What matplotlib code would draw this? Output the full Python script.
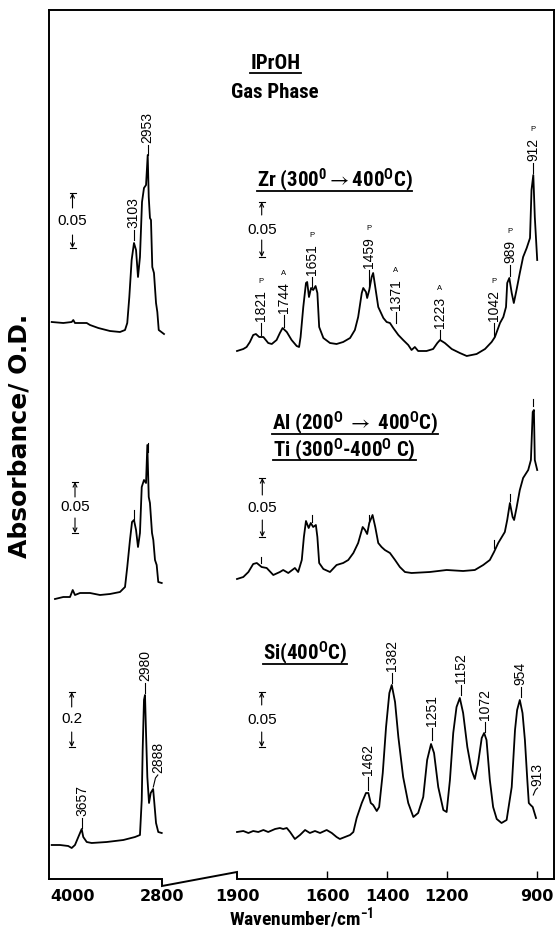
import numpy as np
import matplotlib
matplotlib.use('Agg')
import matplotlib.pyplot as plt
import matplotlib.transforms as mtransforms
from matplotlib import font_manager

# ---- spectra: wavenumber (cm-1) and offset absorbance (plot units) ----
# IPrOH gas phase, C-H stretch region
gas_wn = [3981, 3857, 3767, 3750, 3732, 3606, 3571, 3482, 3357, 3250, 3196, 3172, 3150,
          3125, 3100, 3078, 3057, 3036, 3014, 2993, 2971, 2953, 2942, 2929, 2918, 2904,
          2886, 2864, 2850, 2835, 2776]
gas_abs = [557, 556, 557, 559, 556, 556, 554, 551, 548, 547, 549, 556, 582, 619, 636, 629,
           602, 622, 677, 691, 694, 724, 682, 661, 659, 612, 606, 576, 567, 549, 545]

# Zr (300 -> 400 C)
zr_wn = [1900, 1879, 1868, 1857, 1846, 1837, 1826, 1812, 1796, 1784, 1768, 1757, 1748, 1734,
         1718, 1701, 1693, 1688, 1679, 1670, 1666, 1660, 1653, 1646, 1638, 1632, 1626, 1612,
         1590, 1568, 1546, 1523, 1507, 1496, 1484, 1479, 1470, 1466, 1459, 1451, 1446, 1439,
         1429, 1412, 1401, 1390, 1379, 1362, 1346, 1329, 1318, 1307, 1296, 1268, 1246, 1232,
         1223, 1207, 1184, 1157, 1134, 1101, 1073, 1051, 1040, 1023, 1012, 1003, 999, 992,
         984, 977, 968, 957, 946, 934, 923, 918, 912, 907, 899]
zr_abs = [528, 530, 532, 537, 544, 545, 542, 542, 536, 535, 539, 546, 551, 547, 539, 533,
          532, 542, 572, 596, 597, 582, 591, 589, 593, 586, 552, 541, 536, 535, 537, 541,
          549, 562, 586, 591, 587, 581, 589, 602, 606, 592, 572, 561, 557, 556, 551, 544,
          539, 534, 529, 532, 528, 528, 530, 536, 539, 536, 530, 526, 523, 525, 530, 537,
          542, 556, 562, 572, 596, 601, 586, 576, 589, 606, 622, 631, 641, 689, 704, 662, 619]

# gas-phase region, Al / Ti
gas2_wn = [3946, 3857, 3785, 3756, 3732, 3678, 3571, 3464, 3357, 3250, 3196, 3172, 3143,
           3121, 3100, 3078, 3057, 3036, 3017, 2993, 2971, 2957, 2942, 2929, 2907, 2893,
           2875, 2857, 2840, 2803]
gas2_abs = [280, 282, 282, 289, 284, 286, 286, 284, 285, 287, 292, 312, 339, 357, 359, 349,
            332, 346, 392, 399, 396, 434, 382, 376, 346, 339, 319, 314, 297, 296]

# Al (200 -> 400 C) / Ti (300-400 C)
alti_wn = [1900, 1879, 1862, 1846, 1834, 1818, 1801, 1779, 1757, 1746, 1729, 1707, 1696,
           1684, 1677, 1670, 1661, 1654, 1646, 1637, 1632, 1626, 1612, 1590, 1568, 1546,
           1529, 1512, 1496, 1481, 1473, 1466, 1459, 1448, 1439, 1429, 1418, 1407, 1390,
           1373, 1357, 1340, 1318, 1257, 1201, 1146, 1107, 1079, 1057, 1043, 1029, 1007,
           999, 990, 981, 976, 968, 957, 946, 929, 920, 914, 910, 907, 899]
alti_abs = [300, 302, 307, 315, 316, 312, 311, 304, 307, 309, 306, 311, 307, 319, 342, 358,
            351, 356, 352, 354, 342, 316, 310, 307, 314, 316, 319, 326, 336, 352, 349, 345,
            356, 364, 352, 336, 332, 329, 326, 319, 312, 307, 306, 307, 309, 308, 309, 314,
            319, 327, 336, 347, 359, 376, 362, 359, 371, 389, 401, 409, 419, 467, 469, 419, 409]

# Si (400 C), gas-phase region
sig_wn = [3981, 3892, 3804, 3767, 3732, 3696, 3660, 3643, 3606, 3553, 3392, 3214, 3089,
          3036, 3017, 3007, 2993, 2982, 2971, 2957, 2939, 2921, 2895, 2882, 2864, 2840, 2803]
sig_abs = [34, 34, 33, 31, 34, 42, 50, 42, 37, 36, 37, 39, 42, 44, 79, 129, 179, 184, 146,
           102, 76, 86, 90, 76, 56, 47, 46]

# Si (400 C)
si_wn = [1900, 1879, 1862, 1846, 1829, 1812, 1796, 1773, 1757, 1746, 1734, 1723, 1707, 1690,
         1673, 1657, 1640, 1623, 1601, 1584, 1568, 1557, 1540, 1523, 1512, 1501, 1484, 1470,
         1462, 1454, 1446, 1434, 1426, 1414, 1403, 1392, 1384, 1373, 1362, 1346, 1329, 1312,
         1296, 1279, 1266, 1253, 1243, 1229, 1212, 1201, 1190, 1179, 1168, 1157, 1146, 1132,
         1118, 1107, 1096, 1084, 1076, 1068, 1057, 1046, 1034, 1018, 1001, 984, 973, 966,
         957, 948, 940, 932, 927, 921, 914, 903]
si_abs = [47, 48, 46, 48, 47, 49, 47, 50, 51, 50, 51, 47, 40, 44, 49, 46, 48, 46, 49, 46,
          42, 40, 42, 44, 47, 61, 76, 86, 86, 76, 74, 68, 72, 106, 152, 186, 194, 177, 142,
          102, 76, 62, 66, 82, 119, 135, 126, 92, 69, 67, 99, 146, 172, 181, 166, 132, 109,
          100, 116, 141, 146, 139, 99, 72, 60, 56, 59, 92, 149, 169, 179, 166, 139, 99, 76,
          74, 72, 61]

# peak labels
gas_peaks = [3103, 2953]
zr_peaks = [1821, 1744, 1651, 1459, 1371, 1223, 1042, 989, 912]
zr_tags = ['P', 'A', 'P', 'P', 'A', 'A', 'P', 'P', 'P']
gas2_marks = [3103, 2953]
alti_marks = [1821, 1651, 1459, 1042, 989, 912]
sig_peaks = [3657, 2980]
si_peaks = [1462, 1382, 1251, 1152, 1072, 954]

tick_vals = [4000, 2800, 1900, 1600, 1400, 1200, 900]
tick_text = ['4000', '2800', '1900', '1600', '1400', '1200', '900']

# ---- layout (label line spans in plot units) ----
gas_lines = [(639, 649), (724, 734)]
zr_lines = [(544, 556), (552, 564), (592, 602), (592, 609), (556, 567), (539, 549),
            (542, 556), (603, 614), (706, 716)]
gas2_lines = [(359, 369), (427, 436)]
alti_lines = [(316, 322), (357, 364), (357, 364), (331, 339), (378, 385), (473, 480)]
sig_lines = [(51, 61), (186, 196)]
si_lines = [(89, 102), (196, 206), (139, 151), (184, 194), (147, 157), (182, 192)]

names = {f.name for f in font_manager.fontManager.ttflist}
narrow = next((n for n in ['Liberation Sans Narrow', 'Arial Narrow', 'Roboto Condensed',
                           'Open Sans Condensed'] if n in names), None)
if narrow is None:
    narrow, tsize = 'Liberation Sans', 12.5
else:
    tsize = 15
plt.rcParams['mathtext.fontset'] = 'custom'
plt.rcParams['mathtext.rm'] = narrow + ':bold'
plt.rcParams['mathtext.it'] = narrow + ':bold'
plt.rcParams['mathtext.bf'] = narrow + ':bold'
plt.rcParams['mathtext.fallback'] = 'stixsans'

W, H = 560, 931
fig = plt.figure(figsize=(W / 100, H / 100), dpi=100)
ax = fig.add_axes([49 / W, 52 / H, 505 / W, 869 / H])
pix = mtransforms.Affine2D().scale(1 / W, -1 / H).translate(0, 1) + fig.transFigure

# broken wavenumber axis: piecewise linear scale
WN_KNOTS = [843, 1900, 2800, 4010]
PX_KNOTS = [0, 317, 392, 505]


def fwd(w):
    return np.interp(w, WN_KNOTS, PX_KNOTS)


def inv(p):
    return np.interp(p, PX_KNOTS, WN_KNOTS)


ax.set_xscale('function', functions=(fwd, inv))

for wn, ab in [(gas_wn, gas_abs), (zr_wn, zr_abs), (gas2_wn, gas2_abs),
               (alti_wn, alti_abs), (sig_wn, sig_abs), (si_wn, si_abs)]:
    ax.plot(wn, ab, color='black', lw=1.3)

lab_font = ['Liberation Sans', 'DejaVu Sans']


def peak_label(wn, span, text=None, tag=None):
    h0, h1 = span
    ax.plot([wn, wn], [h0, h1], color='black', lw=0.8)
    if text:
        ax.text(wn, h1 + 2, text, rotation=90, ha='center', va='bottom',
                fontsize=10, family=lab_font)
    if tag:
        ax.text(wn, h1 + 2 + 8 * len(text) + 7, tag, ha='center', va='center',
                fontsize=5.5, family=lab_font)


for wn, sp in zip(gas_peaks, gas_lines):
    peak_label(wn, sp, str(wn))
for wn, sp, tg in zip(zr_peaks, zr_lines, zr_tags):
    peak_label(wn, sp, str(wn), tg)
for wn, sp in zip(gas2_marks, gas2_lines):
    peak_label(wn, sp)
for wn, sp in zip(alti_marks, alti_lines):
    peak_label(wn, sp)
for wn, sp in zip(sig_peaks, sig_lines):
    peak_label(wn, sp, str(wn))
for wn, sp in zip(si_peaks, si_lines):
    peak_label(wn, sp, str(wn))

# hooked labels (913 and 2888)
ax.plot([912, 905, 898], [84, 89, 91], color='black', lw=0.8)
ax.text(897, 93, '913', rotation=90, ha='center', va='bottom', fontsize=10, family=lab_font)
ax.plot([2893, 2870, 2845], [92, 101, 104], color='black', lw=0.8)
ax.text(2840, 106, '2888', rotation=90, ha='center', va='bottom', fontsize=10, family=lab_font)


# absorbance scale bars
def scale_bar(x, top, up_end, ytext, down_start, bot, label):
    arr = dict(arrowstyle='->', lw=0.8, shrinkA=0, shrinkB=0, mutation_scale=7)
    ax.annotate('', xy=(x, top), xytext=(x, up_end), xycoords=pix, textcoords=pix,
                arrowprops=arr)
    ax.annotate('', xy=(x, bot), xytext=(x, down_start), xycoords=pix, textcoords=pix,
                arrowprops=arr)
    for yy in (top, bot):
        ax.plot([x - 3, x + 3], [yy, yy], color='black', lw=0.8, transform=pix, clip_on=False)
    ax.text(x, ytext, label, transform=pix, ha='center', va='center', fontsize=11,
            family=lab_font)


scale_bar(72.5, 193, 208, 221, 235, 248, '0.05')
scale_bar(261.7, 202, 215, 230, 240, 257, '0.05')
scale_bar(75, 482, 497, 507, 518, 533, '0.05')
scale_bar(262.3, 478, 495, 508, 520, 537, '0.05')
scale_bar(71.7, 692, 707, 719, 732, 747, '0.2')
scale_bar(261.7, 692, 705, 720, 732, 747, '0.05')

# panel titles
title_font = [narrow, 'DejaVu Sans']
titles = [
    ('IPrOH', 275.5, 69, 'center', True),
    ('Gas Phase', 274.5, 98, 'center', False),
    (r'Zr (300$^0\rightarrow$400$^O$C)', 256.7, 187, 'left', True),
    (r'Al (200$^O$ $\rightarrow$ 400$^O$C)', 271.7, 430, 'left', True),
    ('Ti (300$^O$-400$^O$ C)', 273, 456.7, 'left', True),
    ('Si(400$^O$C)', 263, 660, 'left', True),
]
tobjs = []
for s, x, y, ha, ul in titles:
    t = ax.text(x, y, s, transform=pix, ha=ha, va='baseline', fontsize=tsize,
                fontweight='bold', family=title_font)
    tobjs.append((t, y, ul))

# frame with the broken bottom axis
ax.set_xlim(4010, 843)
ax.set_ylim(0, 869)
ax.spines['bottom'].set_visible(False)
for sp in ['left', 'right', 'top']:
    ax.spines[sp].set_linewidth(1.4)
ax.plot([4010, 2800, 2800, 1900, 1900, 843], [0, 0, -7, 7, 0, 0], color='black',
        lw=1.4, clip_on=False, solid_joinstyle='miter')

ax.set_yticks([])
ax.set_xticks(tick_vals)
ax.set_xticklabels(tick_text)
ax.tick_params(axis='x', direction='in', length=5.8, width=1.0, pad=7, labelsize=11.5)
for lbl in ax.get_xticklabels():
    lbl.set_fontweight('bold')
    lbl.set_family('DejaVu Sans')
ax.get_xticklabels()[0].set_ha('left')
for tk in ax.xaxis.get_major_ticks()[:3]:
    tk.tick1line.set_visible(False)

ax.set_xlabel('Wavenumber/cm$^{-1}$', fontsize=tsize - 1, fontweight='bold',
              family=title_font, labelpad=1)
ax.set_ylabel('Absorbance/ O.D.', fontsize=18, fontweight='bold', family='DejaVu Sans')
ax.yaxis.set_label_coords(-0.034, 0.51)

# underline titles
fig.canvas.draw()
r = fig.canvas.get_renderer()
for t, y, ul in tobjs:
    if not ul:
        continue
    bb = t.get_window_extent(r)
    x0, x1 = bb.x0 * W / fig.bbox.width, bb.x1 * W / fig.bbox.width
    ax.plot([x0, x1], [y + 3.5, y + 3.5], color='black', lw=1.3, transform=pix, clip_on=False)

fig.savefig('out.png', dpi=100)
